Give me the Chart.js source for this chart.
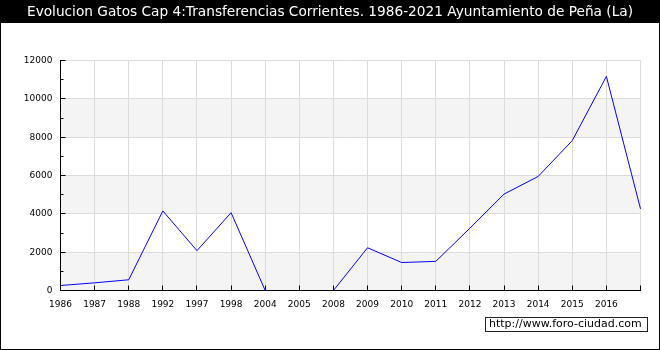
<!DOCTYPE html>
<html>
<head>
<meta charset="utf-8">
<script src="https://cdn.jsdelivr.net/npm/chart.js@4"></script>
<style>
body{margin:0;background:#fff}
canvas{display:block}
</style>
</head>
<body>
<canvas id="grafico" width="660" height="350"></canvas>
<script>
// dati
const anni = ["1986","1987","1988","1992","1997","1998","2004","2005","2008","2009","2010","2011","2012","2013","2014","2015","2016",""];
const gastos = [260,400,560,4150,2080,4060,0,0,0,2230,1460,1520,3250,5030,5950,7820,11170,4260];
const tickY = [0,2000,4000,6000,8000,10000,12000];
const titolo = "Evolucion Gatos Cap 4:Transferencias Corrientes. 1986-2021 Ayuntamiento de Peña (La)";
const marca = "http://www.foro-ciudad.com";

const font = "'DejaVu Sans', Verdana, sans-serif";

// sfondo, bande, tacche interne, titolo e cornice
const cornice = {
    id: "cornice",
    beforeDraw(chart) {
        const ctx = chart.ctx, a = chart.chartArea, y = chart.scales.y;
        ctx.save();
        ctx.fillStyle = "#fff";
        ctx.fillRect(0, 0, chart.width, chart.height);
        ctx.fillStyle = "#f4f4f4";
        for (let i = 0; i < tickY.length - 1; i += 2) {
            const y1 = Math.floor(y.getPixelForValue(tickY[i]));
            const y2 = Math.floor(y.getPixelForValue(tickY[i + 1]));
            ctx.fillRect(Math.floor(a.left), y2, Math.ceil(a.right - a.left), y1 - y2);
        }
        ctx.restore();
    },
    afterDraw(chart) {
        const ctx = chart.ctx, a = chart.chartArea, x = chart.scales.x, y = chart.scales.y;
        ctx.save();
        ctx.strokeStyle = "#000";
        ctx.lineWidth = 1;
        ctx.beginPath();
        // assi sopra la linea
        const bx = Math.floor(a.left) + 0.5, by = Math.floor(a.bottom) + 0.5;
        ctx.moveTo(bx, a.top);
        ctx.lineTo(bx, by);
        ctx.lineTo(a.right, by);
        for (let v = tickY[0]; v <= tickY[tickY.length - 1]; v += 1000) {
            const py = Math.floor(y.getPixelForValue(v)) + 0.5;
            ctx.moveTo(bx, py);
            ctx.lineTo(bx + (v % 2000 === 0 ? 5 : 3), py);
        }
        anni.forEach((l, i) => {
            const px = Math.floor(x.getPixelForValue(i)) + 0.5;
            ctx.moveTo(px, by);
            ctx.lineTo(px, by - 5);
        });
        ctx.stroke();

        // titolo
        ctx.fillStyle = "#000";
        ctx.fillRect(0, 0, chart.width, 23);
        ctx.fillStyle = "#fff";
        ctx.font = "13.7px " + font;
        ctx.textAlign = "center";
        ctx.textBaseline = "middle";
        ctx.fillText(titolo, chart.width / 2, 12);

        // cornice esterna
        ctx.strokeRect(0.5, 0.5, chart.width - 1, chart.height - 1);

        // marca
        ctx.fillStyle = "#fff";
        ctx.fillRect(485, 317, 163, 14);
        ctx.strokeStyle = "#222";
        ctx.strokeRect(485.5, 317.5, 162, 14);
        ctx.fillStyle = "#000";
        ctx.font = "11px " + font;
        ctx.textAlign = "left";
        ctx.fillText(marca, 489, 324.5);
        ctx.restore();
    }
};

new Chart("grafico", {
    type: "line",
    data: {
        labels: anni,
        datasets: [{
            data: gastos,
            borderColor: "#0000ff",
            borderWidth: 1,
            pointRadius: 0,
            tension: 0,
            fill: false
        }]
    },
    options: {
        responsive: false,
        animation: false,
        layout: {padding: {top: 60.5, right: 19.5, left: 0, bottom: 0}},
        plugins: {legend: {display: false}, tooltip: {enabled: false}},
        scales: {
            x: {
                offset: false,
                grid: {color: "#dcdcdc", drawTicks: false},
                border: {color: "#000", width: 1},
                ticks: {color: "#000", font: {size: 9, family: font}, padding: 9, autoSkip: false, maxRotation: 0},
                afterFit: s => { s.height = 59.5; }
            },
            y: {
                min: 0,
                max: 12000,
                grid: {color: "#dcdcdc", drawTicks: false},
                border: {color: "#000", width: 1},
                ticks: {stepSize: 2000, color: "#000", font: {size: 9, family: font}, padding: 8, callback: v => String(v)},
                afterFit: s => { s.width = 60.5; }
            }
        }
    },
    plugins: [cornice]
});
</script>
</body>
</html>
